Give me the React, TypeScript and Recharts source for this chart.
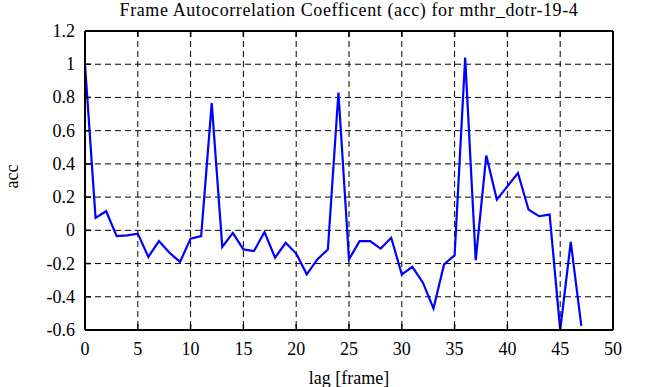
import React from 'react';
import { LineChart, Line, XAxis, YAxis, CartesianGrid } from 'recharts';

const lags = [
  0, 1, 2, 3, 4, 5, 6, 7, 8, 9, 10, 11, 12, 13, 14, 15, 16, 17, 18, 19, 20, 21, 22, 23,
  24, 25, 26, 27, 28, 29, 30, 31, 32, 33, 34, 35, 36, 37, 38, 39, 40, 41, 42, 43, 44, 45, 46, 47,
];
const acc = [
  1.0, 0.075, 0.115, -0.035, -0.03, -0.02, -0.16, -0.065, -0.135, -0.19, -0.05, -0.035,
  0.766, -0.1, -0.015, -0.115, -0.125, -0.01, -0.165, -0.075, -0.14, -0.265, -0.175, -0.115,
  0.83, -0.175, -0.065, -0.065, -0.11, -0.045, -0.265, -0.22, -0.315, -0.47, -0.205, -0.15,
  1.04, -0.18, 0.45, 0.185, 0.265, 0.345, 0.125, 0.085, 0.095, -0.6, -0.07, -0.575,
];
const xTicks = [0, 5, 10, 15, 20, 25, 30, 35, 40, 45, 50];
const yTicks = [-0.6, -0.4, -0.2, 0, 0.2, 0.4, 0.6, 0.8, 1, 1.2];

const data = lags.map((lag, i) => ({ lag, acc: acc[i] }));

const FONT = '"Liberation Serif", "Times New Roman", serif';
const TICK_LEN = 6;
const txt = { fontFamily: FONT, fontSize: 18, fill: '#000' };

// tick label plus a short inward tick mark
const BottomTick = (props: any) => {
  const { x, y, payload } = props;
  const axisY = y - 12;
  return (
    <g>
      <line x1={x} x2={x} y1={axisY} y2={axisY - TICK_LEN} stroke="#000" strokeWidth={1.5} />
      <text x={x} y={y + 13} textAnchor="middle" fontFamily={FONT} fontSize={18} style={txt}>
        {payload.value}
      </text>
    </g>
  );
};

const TopTick = (props: any) => {
  const { x, y } = props;
  return <line x1={x} x2={x} y1={y} y2={y + TICK_LEN} stroke="#000" strokeWidth={1.5} />;
};

const LeftTick = (props: any) => {
  const { x, y, payload } = props;
  const axisX = x + 10;
  return (
    <g>
      <line x1={axisX} x2={axisX + TICK_LEN} y1={y} y2={y} stroke="#000" strokeWidth={1.5} />
      <text x={x} y={y + 6} textAnchor="end" fontFamily={FONT} fontSize={18} style={txt}>
        {Number(payload.value.toFixed(1))}
      </text>
    </g>
  );
};

const RightTick = (props: any) => {
  const { x, y } = props;
  return <line x1={x} x2={x - TICK_LEN} y1={y} y2={y} stroke="#000" strokeWidth={1.5} />;
};

export default function App() {
  return (
    <div style={{ position: 'absolute', left: 0, top: 0, width: 646, height: 387, background: '#fff' }}>
      <div
        style={{
          position: 'absolute',
          left: 85,
          width: 528,
          top: 0,
          textAlign: 'center',
          fontFamily: FONT,
          fontSize: 18,
          lineHeight: '21px',
          letterSpacing: '0.6px',
          whiteSpace: 'nowrap',
        }}
      >
        Frame Autocorrelation Coefficent (acc) for mthr_dotr-19-4
      </div>
      <LineChart
        width={646}
        height={387}
        data={data}
        margin={{ top: 0, right: 0, bottom: 0, left: 0 }}
        style={{ position: 'absolute', left: 0, top: 0, fontFamily: FONT }}
      >
        <CartesianGrid
          xAxisId="bottom"
          yAxisId="left"
          stroke="#000"
          strokeDasharray="6 4"
          strokeWidth={1}
        />
        <XAxis
          dataKey="lag"
          type="number"
          domain={[0, 50]}
          ticks={xTicks}
          xAxisId="bottom"
          orientation="bottom"
          height={57}
          axisLine={{ stroke: '#000', strokeWidth: 2 }}
          tickLine={false}
          tickSize={0}
          tickMargin={12}
          tick={<BottomTick />}
          interval={0}
          label={{ value: 'lag [frame]', position: 'insideBottom', offset: 3, style: txt }}
        />
        <XAxis
          dataKey="lag"
          type="number"
          domain={[0, 50]}
          ticks={xTicks}
          xAxisId="top"
          orientation="top"
          height={31}
          axisLine={{ stroke: '#000', strokeWidth: 2 }}
          tickLine={false}
          tickSize={0}
          tickMargin={0}
          tick={<TopTick />}
          interval={0}
        />
        <YAxis
          type="number"
          domain={[-0.6, 1.2]}
          ticks={yTicks}
          yAxisId="left"
          orientation="left"
          width={85}
          axisLine={{ stroke: '#000', strokeWidth: 2 }}
          tickLine={false}
          tickSize={0}
          tickMargin={10}
          tick={<LeftTick />}
          interval={0}
          label={{ value: 'acc', angle: -90, position: 'insideLeft', offset: 12, dy: -4, style: { ...txt, textAnchor: 'middle' } }}
        />
        <YAxis
          type="number"
          domain={[-0.6, 1.2]}
          ticks={yTicks}
          yAxisId="right"
          orientation="right"
          width={33}
          axisLine={{ stroke: '#000', strokeWidth: 2 }}
          tickLine={false}
          tickSize={0}
          tickMargin={0}
          tick={<RightTick />}
          interval={0}
        />
        <Line
          xAxisId="bottom"
          yAxisId="left"
          type="linear"
          dataKey="acc"
          stroke="#0000ff"
          strokeWidth={2.2}
          dot={false}
          isAnimationActive={false}
        />
      </LineChart>
    </div>
  );
}
